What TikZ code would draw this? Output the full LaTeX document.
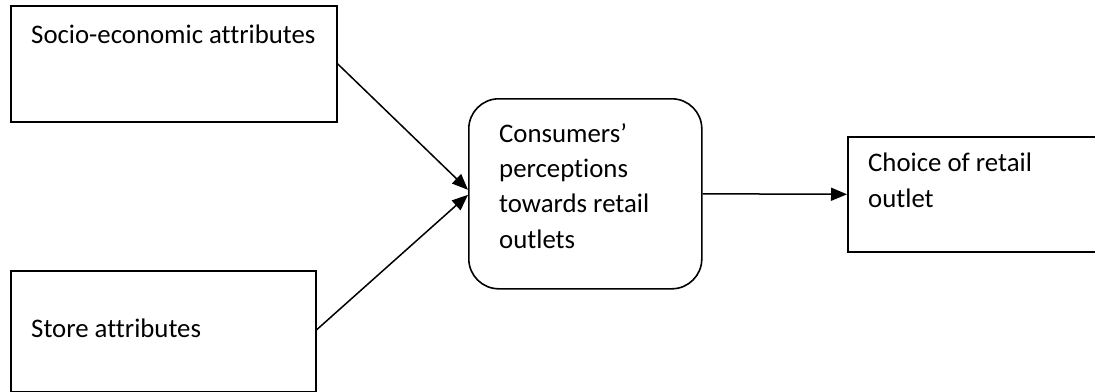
\documentclass[tikz,border=0pt]{standalone}
\usepackage{fontspec}
\setmainfont[Ligatures={NoCommon}]{Carlito}
\usetikzlibrary{arrows.meta}
\tikzset{
  box/.style={draw, line width=1.6pt, rectangle, inner sep=0pt, anchor=north west},
  rbox/.style={box, rounded corners=30pt},
  lbl/.style={anchor=base west, inner sep=0pt, align=left, font=\fontsize{26.8}{35.3}\selectfont},
  conn/.style={line width=1.5pt, -{Triangle[length=16pt,width=13pt]}}
}
\begin{document}
\begin{tikzpicture}[x=1pt,y=-1pt]
\useasboundingbox (0,0) rectangle (1095,391);
\node[box, minimum width=326pt, minimum height=116pt] (b1) at (10,5) {};
\node[box, minimum width=305pt, minimum height=120.5pt] (b2) at (10,270) {};
\node[rbox, minimum width=233pt, minimum height=190pt] (b3) at (468,98) {};
\node[box, minimum width=260pt, minimum height=115pt] (b4) at (847,136) {};
\node[lbl] (t1) at (31,43) {Socio-economic attributes};
\node[lbl] (t2) at (31,337) {Store attributes};
\node[lbl] (t3) at (499,248) {Consumers’\\perceptions\\towards retail\\outlets};
\node[lbl] (t4) at (868,207) {Choice of retail\\outlet};
\draw[conn] (b1.east) -- ([yshift=4pt]b3.west);
\draw[conn] ([yshift=1.25pt]b2.east) -- ([yshift=-1pt]b3.west);
\draw[conn] (b3.east) -- (b4.west);
\end{tikzpicture}
\end{document}
